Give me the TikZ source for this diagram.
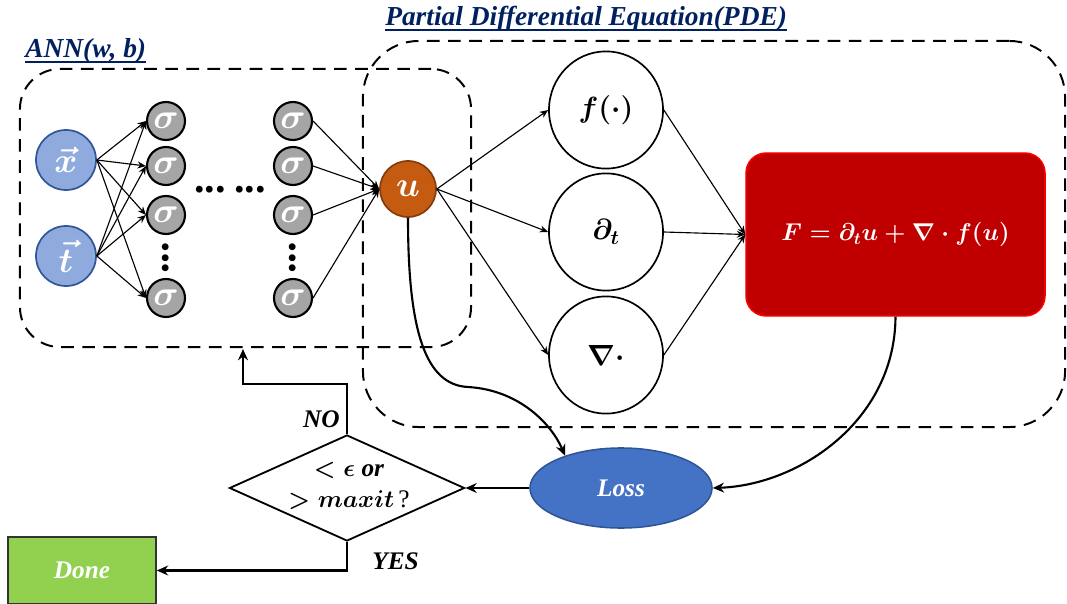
\documentclass[tikz,border=0pt]{standalone}
\usepackage{amsmath,amssymb}
\usepackage{bm}
\usepackage{graphicx}
\usepackage{fontspec}
\setmainfont{Liberation Serif}
\usepackage{tikz}
\usetikzlibrary{calc}
\usetikzlibrary{arrows,arrows.meta,shapes,positioning}
\tikzset{>={Stealth[length=6pt,width=5pt]}}

\definecolor{inpfill}{HTML}{8FAADC}
\definecolor{inpline}{HTML}{2F5597}
\definecolor{neurgray}{HTML}{A5A5A5}
\definecolor{ufill}{HTML}{C55A11}
\definecolor{uline}{HTML}{843C0C}
\definecolor{resfill}{HTML}{C00000}
\definecolor{lossfill}{HTML}{4472C4}
\definecolor{donefill}{HTML}{92D050}
\definecolor{ttlblue}{HTML}{002060}

\tikzset{
  grp/.style={draw,line width=1.4pt,dash pattern=on 9pt off 6pt},
  ttl/.style={text=ttlblue,font=\fontsize{19.5}{21}\selectfont\bfseries\itshape,inner sep=0pt},
  uline/.style={draw=ttlblue,line width=1.2pt},
  inp/.style={circle,draw=inpline,fill=inpfill,line width=1.2pt,minimum size=1.5cm,inner sep=0pt,text=white,font=\fontsize{28}{28}\selectfont\boldmath},
  neuron/.style={circle,draw=black,fill=neurgray,line width=1.5pt,minimum size=0.95cm,inner sep=0pt,text=white,font=\fontsize{26}{26}\selectfont\boldmath},
  dots/.style={inner sep=0pt,font=\fontsize{30}{30}\selectfont\bfseries},
  outu/.style={circle,draw=uline,fill=ufill,line width=1.2pt,minimum size=1.4cm,inner sep=0pt,text=white,font=\fontsize{28}{28}\selectfont\boldmath},
  oper/.style={ellipse,draw,line width=1.2pt,minimum width=2.85cm,minimum height=2.93cm,inner sep=0pt,font=\fontsize{20}{20}\selectfont\boldmath},
  resid/.style={rectangle,rounded corners=0.5cm,draw=red,fill=resfill,line width=1pt,minimum width=7.475cm,minimum height=4.075cm,text=white,font=\fontsize{17}{17}\selectfont\boldmath},
  lossnode/.style={ellipse,draw=inpline,fill=lossfill,line width=1.1pt,minimum width=4.55cm,minimum height=2cm,text=white,font=\fontsize{18}{18}\selectfont\bfseries\itshape},
  check/.style={diamond,draw,line width=1.3pt,minimum width=5.875cm,minimum height=2.65cm,inner sep=0pt},
  checktxt/.style={align=center,inner sep=0pt,font=\fontsize{18}{22}\selectfont\bfseries\itshape\boldmath},
  donebox/.style={rectangle,draw=black!80,fill=donefill,line width=1.2pt,minimum width=3.7cm,minimum height=1.675cm,text=white,font=\fontsize{18}{18}\selectfont\bfseries\itshape},
  lbl/.style={font=\fontsize{18}{18}\selectfont\bfseries\itshape,inner sep=0pt},
  thinarr/.style={->,line width=0.8pt},
  flow/.style={-{Stealth[length=8pt,width=7pt]},line width=1.5pt}
}

\begin{document}
\begin{tikzpicture}[x=0.025cm,y=-0.025cm]
\useasboundingbox (0,0) rectangle (1067,604);
\node[grp,minimum width=11.275cm,minimum height=6.95cm,rounded corners=1cm] (ann) at (245.5,208) {};
\node[grp,minimum width=17.55cm,minimum height=9.65cm,rounded corners=1.4cm] (pde) at (714,234) {};
\node[ttl,anchor=base west] (annttl) at (25,58) {ANN(w, b)};
\node[ttl,anchor=base west] (pdettl) at (385,26) {Partial Differential Equation(PDE)};
\draw[uline] ($(annttl.base west)+(0,4)$) -- ($(annttl.base east)+(0,4)$);
\draw[uline] ($(pdettl.base west)+(0,4)$) -- ($(pdettl.base east)+(0,4)$);

\node[inp] (xin) at (66,160) {$\vec{x}$};
\node[inp] (tin) at (66,256) {$\vec{t}$};
\node[neuron] (sa1) at (166,121) {$\sigma$};
\node[neuron] (sa2) at (166,166) {$\sigma$};
\node[neuron] (sa3) at (166,215) {$\sigma$};
\node[neuron] (sa4) at (166,298) {$\sigma$};
\node[neuron] (sb1) at (293,121) {$\sigma$};
\node[neuron] (sb2) at (293,166) {$\sigma$};
\node[neuron] (sb3) at (293,215) {$\sigma$};
\node[neuron] (sb4) at (293,298) {$\sigma$};
\node[dots] (va) at (166,258) {\rotatebox{90}{...}};
\node[dots] (vb) at (293,258) {\rotatebox{90}{...}};
\node[dots] (hd) at (230,190) {...\hspace{6pt}...};
\node[outu] (u) at (408,189) {$u$};

\node[oper] (fop) at (606,110) {$f(\cdot)$};
\node[oper] (dt) at (606,232) {$\partial_t$};
\node[oper] (div) at (606,355) {$\nabla\cdot$};
\node[resid] (F) at (895.5,234.5) {$F=\partial_t u+\nabla\cdot f(u)$};

\node[lossnode] (loss) at (621,488) {Loss};
\node[check] (chk) at (347,488) {};
\node[checktxt] (chktxt) at (349,486) {$<\epsilon$ or\\$>maxit$\,{\normalfont ?}};
\node[donebox] (done) at (82,570.5) {Done};
\node[lbl,anchor=base east] (no) at (340,427) {NO};
\node[lbl,anchor=base west] (yes) at (372,569) {YES};
\coordinate (back) at (243,349);

\draw[thinarr] (xin.east) -- (sa1.west);
\draw[thinarr] (xin.east) -- (sa2.west);
\draw[thinarr] (xin.east) -- (sa3.west);
\draw[thinarr] (xin.east) -- (sa4.west);
\draw[thinarr] (tin.east) -- (sa1.west);
\draw[thinarr] (tin.east) -- (sa2.west);
\draw[thinarr] (tin.east) -- (sa3.west);
\draw[thinarr] (tin.east) -- (sa4.west);
\draw[thinarr] (sb1.east) -- (u.west);
\draw[thinarr] (sb2.east) -- (u.west);
\draw[thinarr] (sb3.east) -- (u.west);
\draw[thinarr] (sb4.east) -- (u.west);
\draw[thinarr] (u.east) -- (fop.west);
\draw[thinarr] (u.east) -- (dt.west);
\draw[thinarr] (u.east) -- (div.west);
\draw[thinarr] (fop.east) -- (F.west);
\draw[thinarr] (dt.east) -- (F.west);
\draw[thinarr] (div.east) -- (F.west);

\draw[flow] (u.south) .. controls (408,330) and (425,385) .. (468,387) .. controls (520,390) and (552,425) .. (loss.150);
\draw[flow] (F.south) .. controls (895,420) and (800,485) .. (loss.east);
\draw[flow] (loss.west) -- (chk.east);
\draw[flow] (chk.north) -- ++(0,-50) -| (back);
\draw[flow] (chk.south) |- (done.east);
\end{tikzpicture}
\end{document}
